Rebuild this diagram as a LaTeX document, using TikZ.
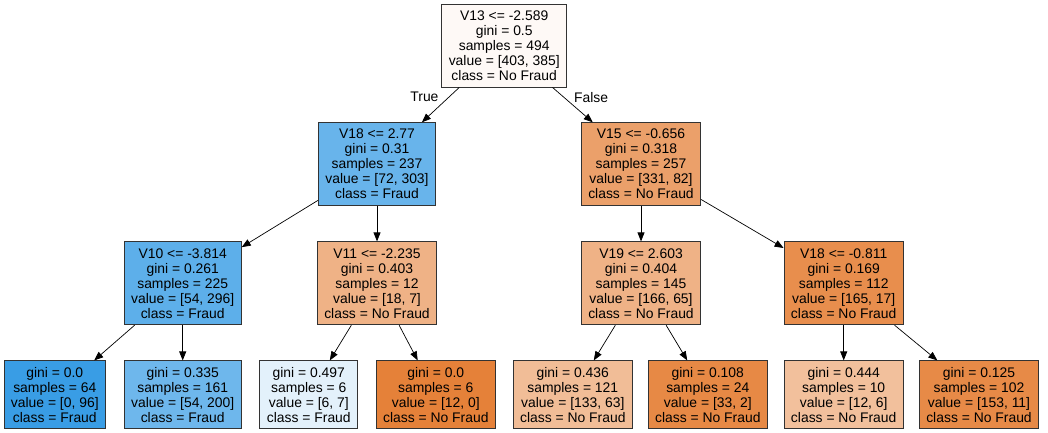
\documentclass[tikz,border=0pt]{standalone}
\usepackage{fontspec}
\setmainfont{Liberation Sans}
\usetikzlibrary{arrows.meta}

\definecolor{root-fill}{RGB}{254,249,246}
\definecolor{fraud-hi}{RGB}{57,157,229}
\definecolor{fraud-a}{RGB}{104,180,235}
\definecolor{fraud-b}{RGB}{93,175,234}
\definecolor{fraud-c}{RGB}{110,183,236}
\definecolor{fraud-lo}{RGB}{227,241,251}
\definecolor{nofraud-hi}{RGB}{229,129,57}
\definecolor{nofraud-a}{RGB}{235,160,106}
\definecolor{nofraud-b}{RGB}{239,178,134}
\definecolor{nofraud-c}{RGB}{232,142,77}
\definecolor{nofraud-d}{RGB}{241,189,151}
\definecolor{nofraud-e}{RGB}{231,137,69}
\definecolor{nofraud-f}{RGB}{242,192,156}
\definecolor{nofraud-g}{RGB}{231,138,71}

\begin{document}
\begin{tikzpicture}[%
      x = 1pt,
      y = -1pt,
      font = \fontsize{13.9}{15}\selectfont,
      block/.style={%
        draw           = black!80,
        line width     = 0.8pt,
        align          = center,
        inner xsep     = 7pt,
        inner ysep     = 0pt,
        minimum height = 83pt,
      },
      leaf/.style={%
        block,
        minimum height = 68pt,
      },
      link/.style={%
        draw,
        line width = 0.7pt,
        -{Triangle[length=9pt,width=7pt]},
      },
      ]

      \useasboundingbox (0,0) rectangle (1048,433);

      \node[block, fill=root-fill] (V13-Root) at (504.2,45.5) {V13 <= -2.589 \\ gini = 0.5 \\ samples = 494 \\ value = [403, 385] \\ class = No Fraud};

      \node[block, fill=fraud-a]   (V18-Left)  at (377,164.2) {V18 <= 2.77 \\ gini = 0.31 \\ samples = 237 \\ value = [72, 303] \\ class = Fraud};
      \node[block, fill=nofraud-a] (V15-Right) at (641,164.2) {V15 <= -0.656 \\ gini = 0.318 \\ samples = 257 \\ value = [331, 82] \\ class = No Fraud};

      \node[block, fill=fraud-b]   (V10)       at (182.7,283.3) {V10 <= -3.814 \\ gini = 0.261 \\ samples = 225 \\ value = [54, 296] \\ class = Fraud};
      \node[block, fill=nofraud-b] (V11)       at (377,283.3)   {V11 <= -2.235 \\ gini = 0.403 \\ samples = 12 \\ value = [18, 7] \\ class = No Fraud};
      \node[block, fill=nofraud-b] (V19)       at (641,283.3)   {V19 <= 2.603 \\ gini = 0.404 \\ samples = 145 \\ value = [166, 65] \\ class = No Fraud};
      \node[block, fill=nofraud-c] (V18-Inner) at (843.7,283.3) {V18 <= -0.811 \\ gini = 0.169 \\ samples = 112 \\ value = [165, 17] \\ class = No Fraud};

      \node[leaf, fill=fraud-hi]   (Leaf-1) at (54.8,394.8)  {gini = 0.0 \\ samples = 64 \\ value = [0, 96] \\ class = Fraud};
      \node[leaf, fill=fraud-c]    (Leaf-2) at (182.7,394.8) {gini = 0.335 \\ samples = 161 \\ value = [54, 200] \\ class = Fraud};
      \node[leaf, fill=fraud-lo]   (Leaf-3) at (308.8,394.8) {gini = 0.497 \\ samples = 6 \\ value = [6, 7] \\ class = Fraud};
      \node[leaf, fill=nofraud-hi] (Leaf-4) at (435.8,394.8) {gini = 0.0 \\ samples = 6 \\ value = [12, 0] \\ class = No Fraud};
      \node[leaf, fill=nofraud-d]  (Leaf-5) at (572.8,394.8) {gini = 0.436 \\ samples = 121 \\ value = [133, 63] \\ class = No Fraud};
      \node[leaf, fill=nofraud-e]  (Leaf-6) at (707.8,394.8) {gini = 0.108 \\ samples = 24 \\ value = [33, 2] \\ class = No Fraud};
      \node[leaf, fill=nofraud-f]  (Leaf-7) at (843.7,394.8) {gini = 0.444 \\ samples = 10 \\ value = [12, 6] \\ class = No Fraud};
      \node[leaf, fill=nofraud-g]  (Leaf-8) at (979,394.8)   {gini = 0.125 \\ samples = 102 \\ value = [153, 11] \\ class = No Fraud};

      \draw[link] (V13-Root) -- node[pos=0.28, label={[label distance=3pt]left:True}] {}  (V18-Left);
      \draw[link] (V13-Root) -- node[pos=0.28, label={[label distance=3pt]right:False}] {} (V15-Right);

      \draw[link] (V18-Left)  -- (V10);
      \draw[link] (V18-Left)  -- (V11);
      \draw[link] (V15-Right) -- (V19);
      \draw[link] (V15-Right) -- (V18-Inner);

      \draw[link] (V10) -- (Leaf-1);
      \draw[link] (V10) -- (Leaf-2);
      \draw[link] (V11) -- (Leaf-3);
      \draw[link] (V11) -- (Leaf-4);
      \draw[link] (V19) -- (Leaf-5);
      \draw[link] (V19) -- (Leaf-6);
      \draw[link] (V18-Inner) -- (Leaf-7);
      \draw[link] (V18-Inner) -- (Leaf-8);

    \end{tikzpicture}
\end{document}
